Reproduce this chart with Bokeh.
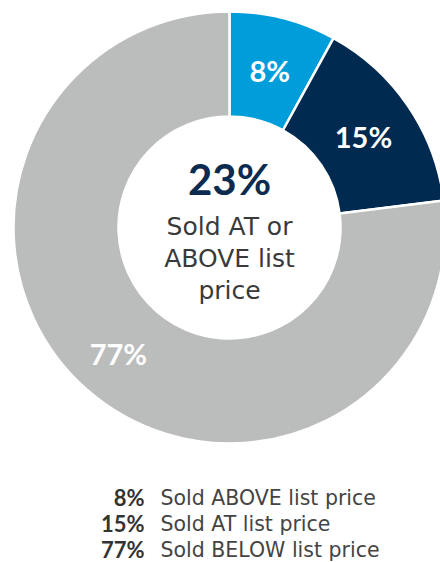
import math
from bokeh.plotting import figure
from bokeh.models import Range1d, ColumnDataSource
from bokeh.core.properties import value
from bokeh.embed import file_html
from bokeh.resources import INLINE

categories = ["Sold ABOVE list price", "Sold AT list price", "Sold BELOW list price"]
shares = [8, 15, 77]
labels = ["8%", "15%", "77%"]
colors = ["#009ddb", "#002a4f", "#bbbcbc"]
center_value = "23%"
center_lines = ["Sold AT or", "ABOVE list", "price"]

BOLD = "Lato"
REG = "DejaVu Sans"
W, H = 440, 562
p = figure(width=W, height=H, output_backend="svg", toolbar_location=None,
           x_range=Range1d(0, W), y_range=Range1d(0, H), min_border=0)
p.axis.visible = False
p.grid.visible = False
p.outline_line_color = None
p.background_fill_color = "white"
p.border_fill_color = "white"

cx, cy = 229, 562 - 227
r_out, r_in = 216, 111

total = sum(shares)
starts, ends, mids = [], [], []
cum = 0
for s in shares:
    a0 = math.pi / 2 - 2 * math.pi * cum / total
    cum += s
    a1 = math.pi / 2 - 2 * math.pi * cum / total
    starts.append(a0)
    ends.append(a1)
    mids.append((a0 + a1) / 2)

src = ColumnDataSource(dict(start=starts, end=ends, color=colors))
p.annular_wedge(x=cx, y=cy, inner_radius=r_in, outer_radius=r_out,
                start_angle="start", end_angle="end", direction="clock",
                fill_color="color", line_color="white", line_width=2.5, source=src)

r_lab = [162, 162, 168]
lx = [cx + r * math.cos(m) for r, m in zip(r_lab, mids)]
ly = [cy + r * math.sin(m) for r, m in zip(r_lab, mids)]
p.text(x=lx, y=ly, text=labels, text_color="white", text_font=value(BOLD),
       text_font_style="bold", text_font_size="29px", text_align="center",
       text_baseline="middle")

p.text(x=[cx], y=[562 - 178], text=[center_value], text_color="#0b2b4f",
       text_font=value(BOLD), text_font_style="bold", text_font_size="42px",
       text_align="center", text_baseline="middle")
p.text(x=[cx] * 3, y=[562 - 226, 562 - 258, 562 - 290], text=center_lines,
       text_color="#3a3a3a", text_font=value(REG), text_font_size="25px",
       text_align="center", text_baseline="middle")

leg_y = [562 - 497, 562 - 523, 562 - 549]
p.text(x=[144] * 3, y=leg_y, text=labels, text_color="#333333",
       text_font=value(BOLD), text_font_style="bold", text_font_size="22px",
       text_align="right", text_baseline="middle")
p.text(x=[160] * 3, y=leg_y, text=categories, text_color="#444444",
       text_font=value(REG), text_font_size="20.5px",
       text_align="left", text_baseline="middle")

open("out.html", "w").write(file_html(p, INLINE))
